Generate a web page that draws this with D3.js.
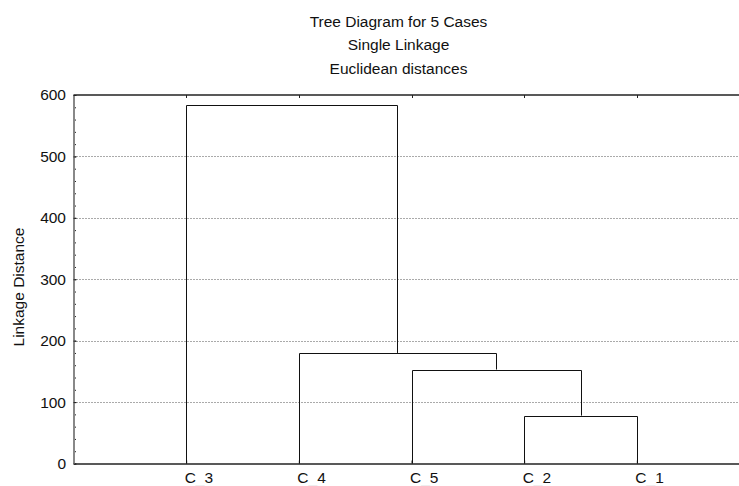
<!DOCTYPE html>
<html>
<head>
<meta charset="utf-8">
<script src="https://cdn.jsdelivr.net/npm/d3@7"></script>
<style>
  html, body { margin: 0; padding: 0; background: #fff; overflow: hidden; }
  svg { display: block; font-family: "Liberation Sans", Arial, sans-serif; }
</style>
</head>
<body>
<div id="chart"></div>
<script>
// leaf order along the x axis, as drawn
const leaves = ["C_3", "C_4", "C_5", "C_2", "C_1"];
// single-linkage merges: [child A, child B, linkage distance]; "mN" = result of merge N
const merges = [
    ["C_2", "C_1", 78],
    ["C_5", "m0", 153],
    ["C_4", "m1", 180],
    ["C_3", "m2", 583]
];
const yTicks = [0, 100, 200, 300, 400, 500, 600];
const titleLines = ["Tree Diagram for 5 Cases", "Single Linkage", "Euclidean distances"];

const W = 739, H = 486;
const FONT = "15.5px";
// plot box runs past the right edge of the picture (it is cropped there)
const plotL = 73.5, plotR = 749.5, plotT = 95, plotB = 463.5;

const svg = d3.select("#chart").append("svg")
    .attr("width", W).attr("height", H);

const x = d3.scalePoint().domain(leaves).range([plotL, plotR]).padding(1);
const y = d3.scaleLinear().domain([0, 600]).range([plotB, plotT]);

// title
svg.append("g").selectAll("text").data(titleLines).join("text")
    .attr("x", 398.5).attr("y", (d, i) => 26.5 + i * 23.5)
    .attr("text-anchor", "middle")
    .style("font-size", FONT).style("fill", "#111")
    .text(d => d);

// dotted grid
svg.append("g").selectAll("line").data(yTicks.filter(v => v > 0 && v < 600)).join("line")
    .attr("x1", plotL).attr("x2", plotR)
    .attr("y1", d => Math.round(y(d)) + 0.5).attr("y2", d => Math.round(y(d)) + 0.5)
    .attr("stroke", "#555").attr("stroke-width", 1)
    .attr("stroke-dasharray", "1,2");

// top border with inward ticks at leaf positions
svg.append("line")
    .attr("x1", plotL).attr("x2", plotR).attr("y1", plotT).attr("y2", plotT)
    .attr("stroke", "#222").attr("stroke-width", 1.5);
svg.append("g").selectAll("line").data(leaves).join("line")
    .attr("x1", d => Math.round(x(d)) + 0.5).attr("x2", d => Math.round(x(d)) + 0.5)
    .attr("y1", plotT).attr("y2", plotT + 3)
    .attr("stroke", "#222");

// bottom axis; case labels start at the leaf rather than centring on it
const xAxis = svg.append("g")
    .attr("transform", `translate(0,${plotB})`)
    .call(d3.axisBottom(x).tickSizeInner(-3).tickSizeOuter(0).tickPadding(8));
xAxis.select(".domain").attr("stroke", "#222").attr("stroke-width", 1.5);
xAxis.selectAll(".tick line").attr("stroke", "#222");
xAxis.selectAll(".tick text").each(function (d) {
    const t = d3.select(this).text(null)
        .attr("text-anchor", "start").attr("x", -2)
        .style("font-size", FONT).style("fill", "#111")
        .style("font-family", "Liberation Sans, Arial, sans-serif")
        .attr("dy", "0.71em");
    const parts = d.split("_");
    t.append("tspan").text(parts[0]);
    t.append("tspan").style("fill", "#eeeeee").text("_");
    t.append("tspan").text(parts[1]);
});

// left axis: minor ticks every 20, then major ticks with labels
const minor = svg.append("g")
    .attr("transform", `translate(${plotL},0)`)
    .call(d3.axisLeft(y).tickValues(d3.range(0, 601, 20)).tickSizeInner(-2.5).tickSizeOuter(0).tickFormat(""));
minor.select(".domain").remove();
minor.selectAll(".tick line").attr("stroke", "#222");

const yAxis = svg.append("g")
    .attr("transform", `translate(${plotL},0)`)
    .call(d3.axisLeft(y).tickValues(yTicks).tickSizeInner(-3).tickSizeOuter(0).tickPadding(7.5));
yAxis.select(".domain").attr("stroke", "#888").attr("stroke-width", 2);
yAxis.selectAll(".tick line").attr("stroke", "#222");
yAxis.selectAll(".tick text")
    .style("font-size", FONT).style("fill", "#111")
    .style("font-family", "Liberation Sans, Arial, sans-serif");

// y axis title
svg.append("text")
    .attr("transform", `translate(24,287) rotate(-90)`)
    .attr("text-anchor", "middle")
    .style("font-size", FONT).style("fill", "#111")
    .text("Linkage Distance");

// dendrogram
const pos = new Map(leaves.map(l => [l, { x: x(l), h: 0 }]));
const links = merges.map(([a, b, h], i) => {
    const pa = pos.get(a), pb = pos.get(b);
    pos.set("m" + i, { x: (pa.x + pb.x) / 2, h });
    return { pa, pb, h };
});
const snap = v => Math.round(v) + 0.5;
svg.append("g").selectAll("path").data(links).join("path")
    .attr("d", d => `M${snap(d.pa.x)},${y(d.pa.h)}V${snap(y(d.h))}H${snap(d.pb.x)}V${y(d.pb.h)}`)
    .attr("fill", "none").attr("stroke", "#111").attr("stroke-width", 1);
</script>
</body>
</html>
